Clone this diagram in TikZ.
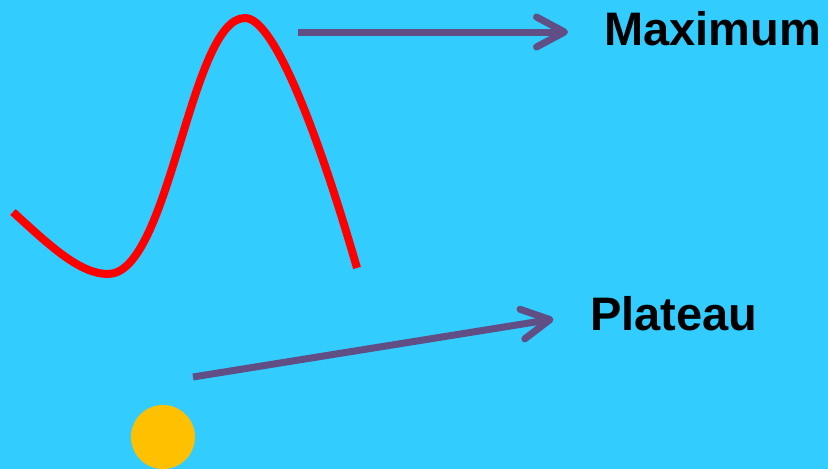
\documentclass[tikz,border=0pt]{standalone}
\usepackage{fontspec}
\setmainfont{Liberation Sans}
\usetikzlibrary{arrows.meta}
\definecolor{bgblue}{HTML}{33CCFF}
\definecolor{curvered}{HTML}{FF0000}
\definecolor{arrowpurple}{HTML}{604E85}
\definecolor{sunyellow}{HTML}{FFC000}
\tikzset{
  lbl/.style={inner sep=0pt, anchor=base west, font=\bfseries\fontsize{47}{50}\selectfont, text=black},
  arr/.style={draw=arrowpurple, line width=7pt,
    -{Straight Barb[length=28pt, width=30pt, round, line width=7pt]}},
  curve/.style={draw=curvered, line width=8pt}
}
\begin{document}
\begin{tikzpicture}[x=1pt,y=-1pt]
\fill[bgblue] (0,0) rectangle (828,469);
\useasboundingbox (0,0) rectangle (828,469);
% curve
\draw[curve] (13,212) .. controls (50,246) and (80,274) .. (108,274)
  .. controls (170,274) and (190,18) .. (245,18)
  .. controls (275,18) and (320,140) .. (357,268);
% sun
\fill[sunyellow] (163,437) circle[radius=32];
% labels
\node[lbl] (max) at (604,45) {Maximum};
\node[lbl] (plat) at (590,330) {Plateau};
% arrow starts
\coordinate (a1) at (298,32);
\coordinate (a2) at (193,377);
\draw[arr, shorten >=36pt] (a1) -- (a1 -| max.west);
\draw[arr, shorten >=37pt] (a2) -- (plat.west);
\end{tikzpicture}
\end{document}
